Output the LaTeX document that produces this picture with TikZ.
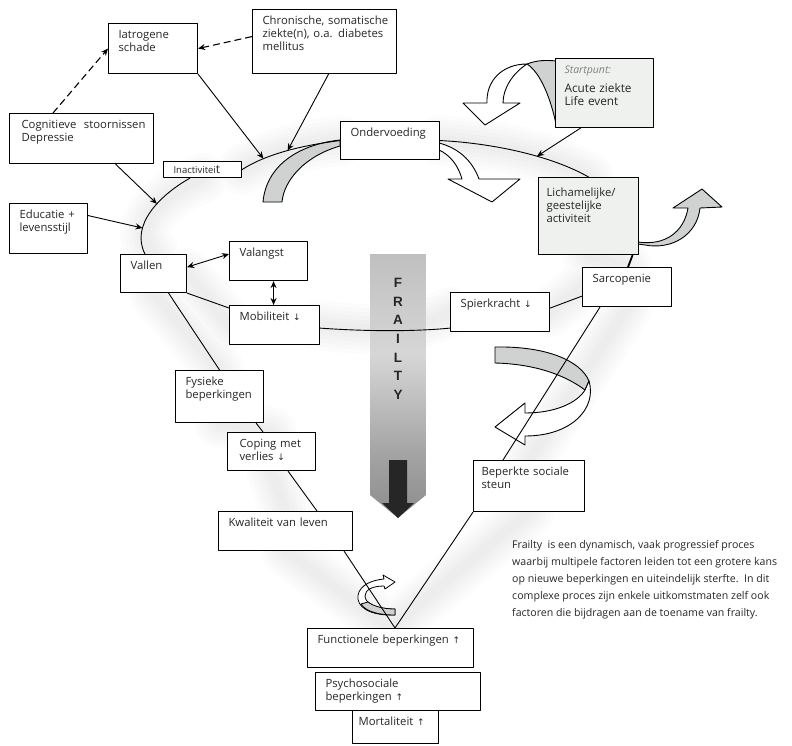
\documentclass[tikz,border=0pt]{standalone}
\usepackage{fontspec}
\setmainfont{Open Sans}
\newfontfamily\symfont{DejaVu Sans}
\newfontfamily\barfont{Liberation Sans}
\usepackage{tikz}
\usetikzlibrary{arrows.meta, calc}

\definecolor{ribgray}{RGB}{208,210,210}
\definecolor{boxgray}{RGB}{239,241,239}
\definecolor{txt}{RGB}{38,38,38}
\newcommand{\arrdn}{{\symfont\fontsize{9}{10}\selectfont ↓}}
\newcommand{\arrup}{{\symfont\fontsize{9}{10}\selectfont ↑}}

\pgfdeclarelayer{bg}
\pgfsetlayers{bg,main}
\pgfdeclareverticalshading{frailshade}{100bp}{rgb(0bp)=(0.55,0.55,0.55); rgb(25bp)=(0.55,0.55,0.55); rgb(37bp)=(0.64,0.64,0.64); rgb(56bp)=(0.84,0.84,0.84); rgb(75bp)=(0.75,0.75,0.75); rgb(100bp)=(0.75,0.75,0.75)}

\begin{document}
\begin{tikzpicture}[x=1pt, y=-1pt, >={Stealth[length=7pt, width=6pt]}, line join=round,
    box/.style={draw=black, line width=1.1pt, fill=white, anchor=north west, align=left, inner xsep=10pt, inner ysep=0pt, text height=14.5pt, text=txt, font=\fontsize{11.3}{13.2}\selectfont},
    greybox/.style={box, fill=boxgray},
    link/.style={line width=0.9pt, ->},
    loopline/.style={line width=0.9pt},
    dlink/.style={line width=1.1pt, ->, dash pattern=on 7pt off 4pt},
    both/.style={line width=0.9pt, <->},
    ribbon/.style={draw=black, line width=0.9pt},
    haze/.style={draw=black, opacity=0.011, line width=#1pt, line cap=round}]
    \useasboundingbox (0,0) rectangle (792,745);

    % frailty bar
    \shade[shading=frailshade] (370,254) -- (426,254) -- (426,495) -- (398,518) -- (370,495) -- cycle;
    \fill[black!85] (389,460) -- (407,460) -- (407,503) -- (414,503) -- (398,518) -- (382,503) -- (389,503) -- cycle;
    \node[font=\barfont\bfseries\fontsize{13.5}{18.7}\selectfont, text=black!85, align=center, inner sep=0pt, anchor=north] (frailtxt) at (398,278) {F\\R\\A\\I\\L\\T\\Y};

    % ribbon arrows
    \filldraw[ribbon, fill=white] (487,103) .. controls (486,80) and (503,64) .. (527,64) .. controls (513,73) and (503,88) .. (503,103) -- (520,103) -- (485,125) -- (463,103) -- cycle;
    \filldraw[ribbon, fill=ribgray] (527,64) .. controls (537,60) and (547,60) .. (556,61) -- (556,124) .. controls (551,100) and (541,73) .. (527,64) -- cycle;
    \filldraw[ribbon, fill=ribgray] (263,202) .. controls (266,168) and (295,145) .. (340,140) -- (340,146) .. controls (305,156) and (284,180) .. (282,202) -- cycle;
    \filldraw[ribbon, fill=white] (439,143) .. controls (458,148) and (472,160) .. (479,179) -- (520,179) -- (492,202) -- (448,179) -- (462,179) .. controls (458,165) and (450,155) .. (439,150) -- cycle;
    \filldraw[ribbon, fill=ribgray] (638,242) .. controls (665,246) and (684,232) .. (688,208) -- (673,208) -- (702,189) -- (722,207) -- (700,208) .. controls (697,235) and (672,250) .. (645,245) -- (638,244) -- cycle;
    \filldraw[ribbon, fill=ribgray] (495,347) .. controls (545,346) and (580,360) .. (589,381) -- (585,390) .. controls (565,375) and (535,364) .. (495,363) -- cycle;
    \filldraw[ribbon, fill=white] (589,381) .. controls (597,408) and (572,436) .. (525,436) -- (525,445) -- (495,427) -- (525,403) -- (525,413) .. controls (555,413) and (577,403) .. (585,390) -- cycle;
    \filldraw[ribbon, fill=white, line width=0.8pt] (395,615) .. controls (370,616) and (356,607) .. (358,595) .. controls (360,585) and (372,580) .. (384,579) -- (383,575) -- (395,582) -- (385,589) -- (384,586) .. controls (372,586) and (365,590) .. (365,596) .. controls (365,603) and (375,609) .. (395,609) -- cycle;
    \filldraw[ribbon, fill=ribgray, line width=0.8pt] (395,609) .. controls (383,609) and (373,606) .. (368,602) -- (361,604) .. controls (366,612) and (380,615) .. (395,615) -- cycle;

    % boxes
    \node[box, text width=69pt, text depth=35.5pt] (iatro) at (108,23) {Iatrogene\\schade};
    \node[box, text width=124pt, text depth=49.5pt] (chron) at (252,9) {\makebox[126pt][s]{Chronische, somatische}\\\makebox[125pt][s]{ziekte(n), o.a. diabetes}\\mellitus};
    \node[box, inner xsep=12pt, text width=120pt, text depth=35.5pt] (cogn) at (9,113) {\makebox[124pt][s]{Cognitieve \ stoornissen}\\Depressie};
    \node[box, text width=58pt, text height=11.5pt, text depth=4.5pt, font=\fontsize{9.5}{11}\selectfont] (inact) at (163,161) {Inactivitei{\fontsize{12}{11}\selectfont t}};
    \node[box, text width=58pt, text depth=35.5pt] (edu) at (9,203) {Educatie~+\\levensstijl};
    \node[box, text width=79pt, text depth=23.5pt] (onder) at (340,121) {Ondervoeding};
    \node[greybox, inner xsep=9pt, text width=80pt, text depth=54.5pt] (start) at (555,58) {{\fontsize{10.5}{11}\selectfont\itshape\color{gray}Startpunt:}\\[6pt]{\fontsize{11.8}{13}\selectfont Acute~ziekte\\Life~event}};
    \node[greybox, inner xsep=8pt, text width=84pt, text height=18.5pt, text depth=58.5pt] (licham) at (538,177) {Lichamelijke/\\geestelijke\\activiteit};
    \node[box, text width=69pt, text depth=24.5pt] (sarco) at (582,267) {Sarcopenie};
    \node[box, text width=79pt, text depth=24.5pt] (spier) at (450,292) {Spierkracht~\arrdn};
    \node[box, text width=58pt, text depth=24.5pt] (valangst) at (229,241) {Valangst};
    \node[box, text width=46pt, text depth=23.5pt] (vallen) at (120,254) {Vallen};
    \node[box, text width=70pt, text depth=24.5pt] (mobil) at (229,305) {Mobiliteit~\arrdn};
    \node[box, text width=68pt, text depth=37.5pt] (fysiek) at (175,370) {Fysieke\\beperkingen};
    \node[box, inner xsep=12pt, text width=64pt, text depth=23.5pt] (coping) at (227,432) {Coping~met\\verlies~\arrdn};
    \node[box, text width=114pt, text depth=24.5pt] (kwal) at (218,511) {Kwaliteit~van~leven};
    \node[box, text width=146pt, text depth=24.5pt] (func) at (307,628) {Functionele~beperkingen~\arrup};
    \node[box, text width=145pt, text depth=23.5pt] (psycho) at (315,672) {Psychosociale\\beperkingen~\arrup};
    \node[box, inner xsep=6pt, text width=74pt, text depth=18.5pt] (mort) at (352,710) {Mortaliteit~\arrup};
    \node[box, inner xsep=8pt, text width=95pt, text depth=36.5pt] (beperkt) at (473,460) {Beperkte~sociale\\steun};

    % the loop
    \draw[loopline] (onder.east) .. controls (490,143) and (550,155) .. (licham.north) coordinate[pos=0.62] (startHit);
    \draw[line width=1.8pt] ([xshift=44pt]licham.south) -- ([xshift=1pt]sarco.north);
    \draw[loopline] ([shift={(0,-11)}]sarco.south west) -- ([shift={(0,-24)}]spier.south east);
    \draw[loopline] ([shift={(0,-4)}]spier.south west) .. controls (410,332) and (360,331) .. ([shift={(0,-17)}]mobil.south east);
    \draw[loopline] ([shift={(0,3)}]mobil.north west) -- (vallen.south east);
    \draw[loopline] ([xshift=25pt]vallen.north west) .. controls (130,225) and (160,195) .. ([xshift=27pt]inact.south west) coordinate[pos=0.3] (eduHit) coordinate[pos=0.6] (cognHit);
    \draw[loopline] (inact.east) .. controls (268,153) and (305,145) .. (onder.west) coordinate[pos=0.25] (iatroHit) coordinate[pos=0.5] (chronHit);

    % influences
    \draw[link] ([xshift=-24pt]start.south) -- (startHit);
    \draw[link] (iatro.south east) -- (iatroHit);
    \draw[link] ([xshift=4pt]chron.south) -- (chronHit);
    \draw[link] ([xshift=34pt]cogn.south) -- (cognHit);
    \draw[link] ([shift={(0,-13)}]edu.east) -- (eduHit);
    \draw[dlink] ([xshift=44pt]cogn.north west) -- (iatro.west);
    \draw[dlink] ([shift={(0,-5)}]chron.west) -- (iatro.east);
    \draw[both] ([shift={(0,-26)}]vallen.south east) -- ([shift={(0,13)}]valangst.north west);
    \draw[both, line width=1.4pt] ([xshift=5pt]valangst.south) -- ([xshift=-1pt]mobil.north);

    % the V
    \draw[loopline] ([xshift=15pt]vallen.south) -- (fysiek.north);
    \draw[loopline] ([xshift=-8pt]fysiek.south east) -- ([xshift=36pt]coping.north west);
    \draw[loopline] ([xshift=61pt]coping.south west) -- ([xshift=99pt]kwal.north west);
    \draw[loopline] ([xshift=-9pt]kwal.south east) -- ([xshift=88pt]func.north west);
    \draw[loopline] (beperkt.south west) -- ([xshift=88pt]func.north west);
    \draw[loopline] ([xshift=18pt]sarco.south west) -- ([xshift=30pt]beperkt.north west);

    % soft shade
    \begin{pgfonlayer}{bg}
    \foreach \w in {50,42,34,26,18,10}
        \draw[haze=\w] (onder.east) .. controls (490,143) and (550,155) .. (licham.north)
            (licham.south) -- (sarco.north) (sarco.west) -- (spier.east)
            (spier.west) .. controls (410,332) and (360,331) .. (mobil.east)
            (mobil.west) -- (vallen.east)
            (vallen.north) .. controls (130,225) and (160,195) .. (inact.south)
            (inact.east) .. controls (268,153) and (305,145) .. (onder.west)
            (vallen.south) -- (fysiek.north) (fysiek.south) -- (coping.north)
            (coping.south) -- (kwal.north) (kwal.south) -- (func.north) -- (beperkt.south)
            (beperkt.north) -- (sarco.south);
    \end{pgfonlayer}

    \node[anchor=north west, inner sep=0pt, align=left, text=txt, font=\fontsize{10.6}{17}\selectfont] (note) at (512,540)
        {Frailty\ \ is een dynamisch, vaak progressief proces\\
         waarbij multipele factoren leiden tot een grotere kans\\
         op nieuwe beperkingen en uiteindelijk sterfte.\ \ In dit\\
         complexe proces zijn enkele uitkomstmaten zelf ook\\
         factoren die bijdragen aan de toename van frailty.};
\end{tikzpicture}
\end{document}
